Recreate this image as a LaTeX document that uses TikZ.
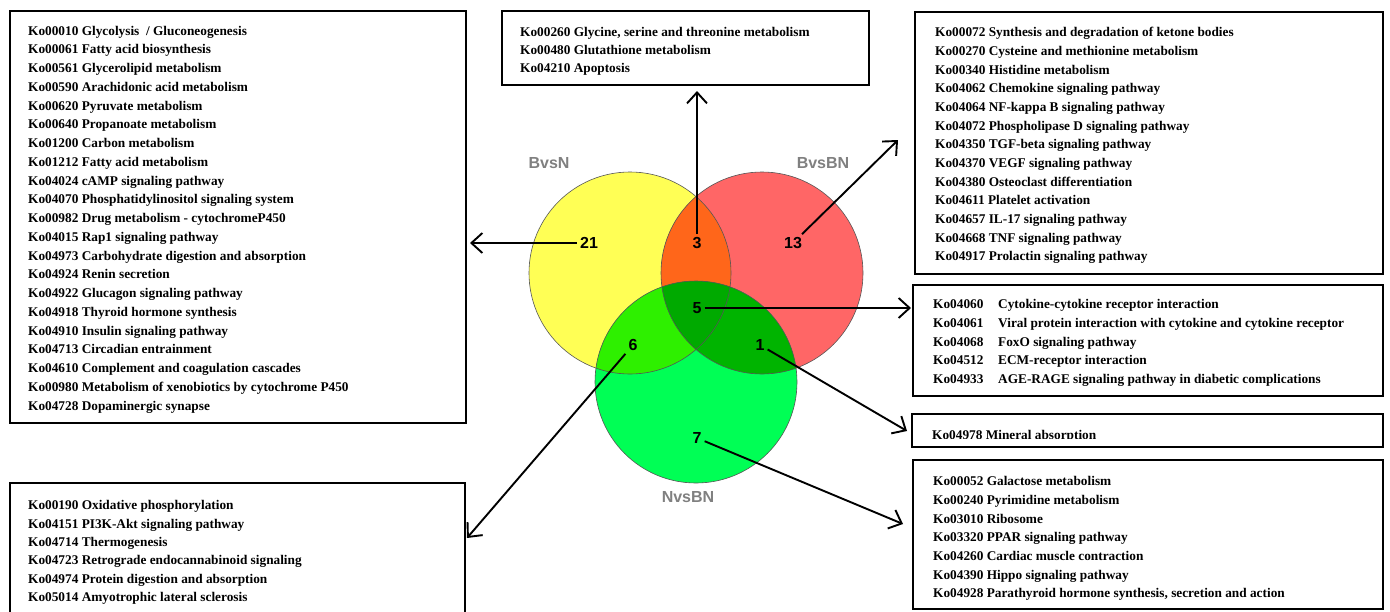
\documentclass[tikz,border=0pt]{standalone}
\usepackage{fontspec}
\setmainfont{Liberation Serif}
\setsansfont{Liberation Sans}
\usetikzlibrary{arrows.meta}
\definecolor{cY}{HTML}{FFFF55}
\definecolor{cR}{HTML}{FF6666}
\definecolor{cG}{HTML}{00FF55}
\definecolor{cYR}{HTML}{FF661A}
\definecolor{cYG}{HTML}{2EF000}
\definecolor{cRG}{HTML}{00B400}
\definecolor{cYRG}{HTML}{00AA00}
\definecolor{labelgray}{HTML}{808080}
\definecolor{rimgray}{HTML}{555555}
\tikzset{
  listbox/.style={draw=black, line width=1.6pt, rectangle, inner sep=0pt, fill=white},
  boxtext/.style={anchor=north west, inner sep=0pt, align=left,
    font=\fontsize{13.3}{#1}\selectfont\bfseries},
  setlabel/.style={font=\sffamily\bfseries\fontsize{16}{16}\selectfont, text=labelgray},
  count/.style={font=\sffamily\bfseries\fontsize{16}{16}\selectfont, inner sep=3pt},
  arr/.style={line width=1.9pt, -{Straight Barb[length=11pt,width=20pt]}},
  rim/.style={draw=rimgray, line width=0.6pt}
}
\newcommand{\kc}[1]{\makebox[65pt][l]{#1}}
\begin{document}
\begin{tikzpicture}[x=1pt,y=-1pt]
\useasboundingbox (0,0) rectangle (1390,611);
\clip (0,0) rectangle (1390,611);
\fill[white] (0,0) rectangle (1390,611);

% Venn diagram
\coordinate (cy) at (630,273);
\coordinate (cr) at (762,273);
\coordinate (cg) at (696,382);
\fill[cY] (cy) circle (101);
\fill[cR] (cr) circle (101);
\fill[cG] (cg) circle (101);
\begin{scope}\clip (cy) circle (101); \fill[cYR] (cr) circle (101);\end{scope}
\begin{scope}\clip (cy) circle (101); \fill[cYG] (cg) circle (101);\end{scope}
\begin{scope}\clip (cr) circle (101); \fill[cRG] (cg) circle (101);\end{scope}
\begin{scope}\clip (cy) circle (101); \clip (cr) circle (101); \fill[cYRG] (cg) circle (101);\end{scope}
\draw[rim] (cy) circle (101);
\draw[rim] (cr) circle (101);
\draw[rim] (cg) circle (101);

\node[setlabel] (lbn) at (549,163) {BvsN};
\node[setlabel] (lbbn) at (823,163) {BvsBN};
\node[setlabel] (lnbn) at (688,497) {NvsBN};

\node[count] (n21) at (589,243) {21};
\node[count] (n3) at (697,243) {3};
\node[count] (n13) at (793,243) {13};
\node[count] (n5) at (697,308) {5};
\node[count] (n6) at (633,345) {6};
\node[count] (n1) at (760,345) {1};
\node[count] (n7) at (697,438) {7};

% boxes
\node[listbox, minimum width=456, minimum height=412] (b21) at (238,217) {};
\node[listbox, minimum width=367, minimum height=74] (b3) at (685.5,48) {};
\node[listbox, minimum width=468, minimum height=262] (b13) at (1149,143) {};
\node[listbox, minimum width=470, minimum height=111] (b5) at (1148,340.5) {};
\node[listbox, minimum width=471, minimum height=33] (b1) at (1147.5,430.5) {};
\node[listbox, minimum width=470, minimum height=149] (b7) at (1148,534.5) {};
\node[listbox, minimum width=455, minimum height=157] (b6) at (237.5,561.5) {};

% texts
\node[boxtext=18.75] (x21) at (28,25) {\rule{0pt}{10pt}Ko00010 Glycolysis\ \ / Gluconeogenesis\\
Ko00061 Fatty acid\ biosynthesis\\
Ko00561 Glycerolipid\ metabolism\\
Ko00590 Arachidonic acid metabolism\\
Ko00620 Pyruvate metabolism\\
Ko00640 Propanoate metabolism\\
Ko01200 Carbon metabolism\\
Ko01212 Fatty acid\ metabolism\\
Ko04024 cAMP signaling pathway\\
Ko04070 Phosphatidylinositol signaling system\\
Ko00982 Drug metabolism - cytochromeP450\\
Ko04015 Rap1 signaling pathway\\
Ko04973 Carbohydrate digestion and absorption\\
Ko04924 Renin secretion\\
Ko04922 Glucagon signaling pathway\\
Ko04918 Thyroid hormone synthesis\\
Ko04910 Insulin signaling pathway\\
Ko04713 Circadian entrainment\\
Ko04610 Complement and coagulation cascades\\
Ko00980 Metabolism of xenobiotics by cytochrome P450\\
Ko04728 Dopaminergic synapse};

\node[boxtext=18] (x3) at (520,26.5) {\rule{0pt}{10pt}Ko00260 Glycine, serine and threonine metabolism\\
Ko00480 Glutathione metabolism\\
Ko04210 Apoptosis};

\node[boxtext=18.67] (x13) at (935,26.5) {\rule{0pt}{10pt}Ko00072 Synthesis and degradation of ketone bodies\\
Ko00270 Cysteine and methionine metabolism\\
Ko00340 Histidine metabolism\\
Ko04062 Chemokine signaling pathway\\
Ko04064 NF-kappa B signaling pathway\\
Ko04072 Phospholipase D signaling pathway\\
Ko04350 TGF-beta\ signaling pathway\\
Ko04370 VEGF signaling pathway\\
Ko04380 Osteoclast differentiation\\
Ko04611 Platelet\ activation\\
Ko04657 IL-17 signaling pathway\\
Ko04668 TNF signaling pathway\\
Ko04917 Prolactin\ signaling pathway};

\node[boxtext=18.75] (x5) at (933,298.5) {\rule{0pt}{10pt}\kc{Ko04060}Cytokine-cytokine receptor interaction\\
\kc{Ko04061}Viral protein interaction with cytokine and cytokine receptor\\
\kc{Ko04068}FoxO signaling pathway\\
\kc{Ko04512}ECM-receptor interaction\\
\kc{Ko04933}AGE-RAGE signaling pathway in diabetic complications};

\begin{scope}
\clip (900,400) rectangle (1390,438);
\node[boxtext=18] (x1) at (932,429) {\rule{0pt}{10pt}Ko04978 Mineral absorption};
\end{scope}

\node[boxtext=18.67] (x7) at (933,475.5) {\rule{0pt}{10pt}Ko00052 Galactose metabolism\\
Ko00240 Pyrimidine metabolism\\
Ko03010 Ribosome\\
Ko03320 PPAR signaling pathway\\
Ko04260 Cardiac muscle contraction\\
Ko04390 Hippo signaling pathway\\
Ko04928 Parathyroid hormone synthesis, secretion\ and action};

\node[boxtext=18.4] (x6) at (28,499.5) {\rule{0pt}{10pt}Ko00190 Oxidative phosphorylation\\
Ko04151 PI3K-Akt signaling pathway\\
Ko04714 Thermogenesis\\
Ko04723 Retrograde endocannabinoid signaling\\
Ko04974 Protein\ digestion and absorption\\
Ko05014 Amyotrophic lateral sclerosis};

% arrow tips
\coordinate (t21) at (470,243);
\coordinate (t3) at (697,91);
\coordinate (t13) at (898,140);
\coordinate (t5) at (911,308);
\coordinate (t1) at (907,431);
\coordinate (t7) at (903,524);
\coordinate (t6) at (467,538);

\draw[arr] (n21) -- (t21);
\draw[arr] (n3) -- (t3);
\draw[arr] (n13) -- (t13);
\draw[arr] (n5) -- (t5);
\draw[arr] (n1) -- (t1);
\draw[arr] (n7) -- (t7);
\draw[arr] (n6) -- (t6);
\end{tikzpicture}
\end{document}
